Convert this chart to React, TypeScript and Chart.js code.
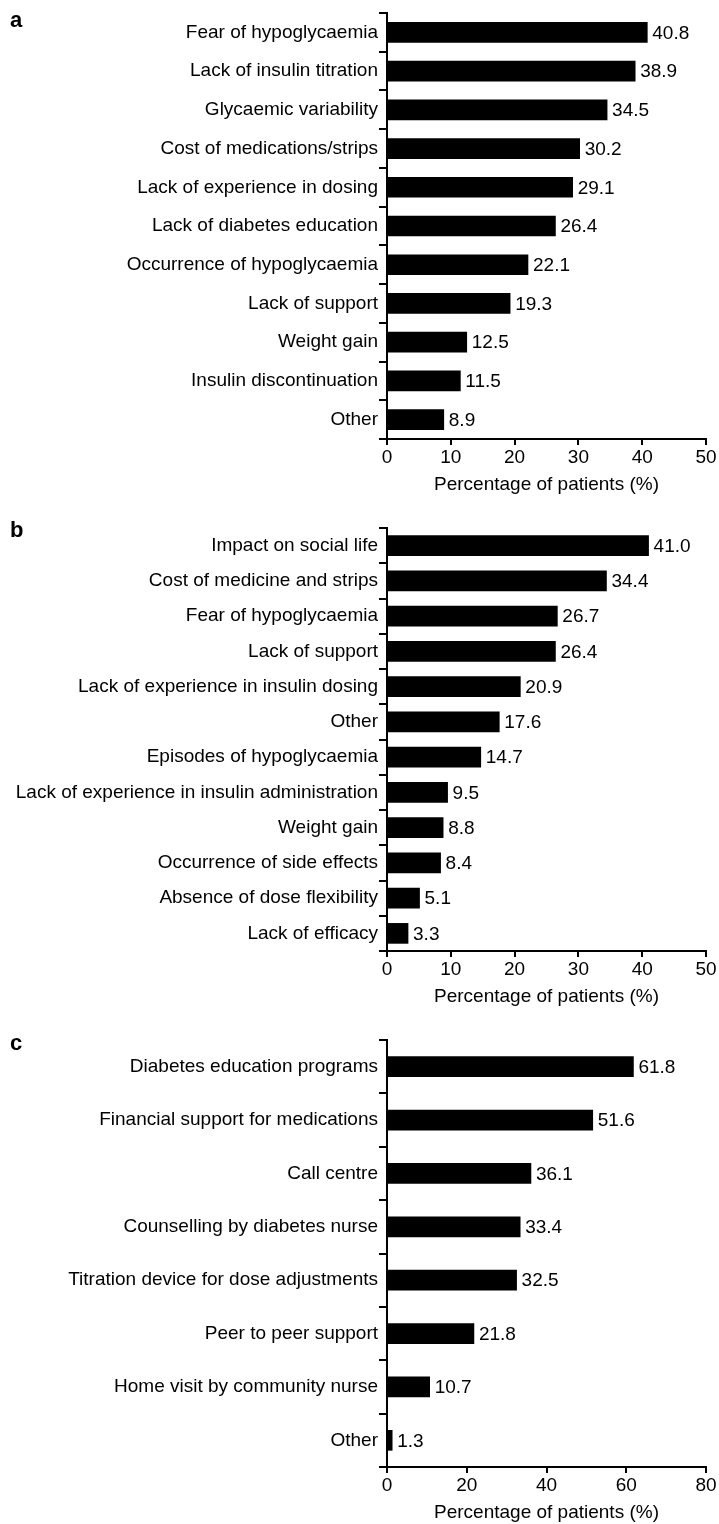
import React, { useEffect, useRef } from "react";
import { Chart, registerables } from "chart.js";

Chart.register(...registerables);

const FONT = "'Liberation Sans', Arial, Helvetica, sans-serif";

// Panel a
const categoriesA = [
  "Fear of hypoglycaemia",
  "Lack of insulin titration",
  "Glycaemic variability",
  "Cost of medications/strips",
  "Lack of experience in dosing",
  "Lack of diabetes education",
  "Occurrence of hypoglycaemia",
  "Lack of support",
  "Weight gain",
  "Insulin discontinuation",
  "Other",
];
const valuesA = [40.8, 38.9, 34.5, 30.2, 29.1, 26.4, 22.1, 19.3, 12.5, 11.5, 8.9];

// Panel b
const categoriesB = [
  "Impact on social life",
  "Cost of medicine and strips",
  "Fear of hypoglycaemia",
  "Lack of support",
  "Lack of experience in insulin dosing",
  "Other",
  "Episodes of hypoglycaemia",
  "Lack of experience in insulin administration",
  "Weight gain",
  "Occurrence of side effects",
  "Absence of dose flexibility",
  "Lack of efficacy",
];
const valuesB = [41.0, 34.4, 26.7, 26.4, 20.9, 17.6, 14.7, 9.5, 8.8, 8.4, 5.1, 3.3];

// Panel c
const categoriesC = [
  "Diabetes education programs",
  "Financial support for medications",
  "Call centre",
  "Counselling by diabetes nurse",
  "Titration device for dose adjustments",
  "Peer to peer support",
  "Home visit by community nurse",
  "Other",
];
const valuesC = [61.8, 51.6, 36.1, 33.4, 32.5, 21.8, 10.7, 1.3];

const axisMaxAB = 50;
const axisStepAB = 10;
const axisMaxC = 80;
const axisStepC = 20;
const axisTitle = "Percentage of patients (%)";

type PanelProps = {
  labels: string[];
  values: number[];
  max: number;
  step: number;
  top: number;
  height: number;
  letter: string;
  letterY: number;
};

function Panel({ labels, values, max, step, top, height, letter, letterY }: PanelProps) {
  const ref = useRef<HTMLCanvasElement | null>(null);
  useEffect(() => {
    if (!ref.current) return;
    const valuePlugin = {
      id: "valueLabels",
      afterDatasetsDraw(chart: any) {
        const ctx = chart.ctx;
        const meta = chart.getDatasetMeta(0);
        ctx.save();
        ctx.fillStyle = "#000";
        ctx.font = `19px ${FONT}`;
        ctx.textAlign = "left";
        ctx.textBaseline = "middle";
        meta.data.forEach((el: any, i: number) => {
          const v = chart.data.datasets[0].data[i] as number;
          ctx.fillText(v.toFixed(1), el.x + 5, el.y + 1);
        });
        ctx.font = `bold 22px ${FONT}`;
        ctx.textBaseline = "alphabetic";
        ctx.fillText(letter, 10, letterY);
        ctx.restore();
      },
    };
    const chart = new Chart(ref.current, {
      type: "bar",
      data: {
        labels,
        datasets: [
          {
            data: values,
            backgroundColor: "#000",
            borderWidth: 0,
            barThickness: 20,
          },
        ],
      },
      options: {
        indexAxis: "y",
        animation: false,
        responsive: false,
        devicePixelRatio: 1,
        layout: { padding: { top: 13, right: 13, left: 0, bottom: 0 } },
        plugins: {
          legend: { display: false },
          tooltip: { enabled: false },
        },
        scales: {
          x: {
            type: "linear",
            min: 0,
            max,
            afterFit: (s: any) => {
              s.height = 57;
            },
            ticks: {
              stepSize: step,
              color: "#000",
              font: { size: 19, family: FONT },
              padding: 1,
              maxRotation: 0,
            },
            grid: {
              display: true,
              drawOnChartArea: false,
              drawTicks: true,
              tickLength: 6,
              color: "#000",
              lineWidth: 2,
            },
            border: { display: true, color: "#000", width: 2 },
            title: {
              display: true,
              text: axisTitle,
              color: "#000",
              font: { size: 19, family: FONT },
              padding: { top: 0, bottom: 0 },
            },
          },
          y: {
            type: "category",
            offset: true,
            afterFit: (s: any) => {
              s.width = 387;
            },
            ticks: {
              color: "#000",
              font: { size: 19, family: FONT },
              padding: 1,
            },
            grid: {
              display: true,
              offset: true,
              drawOnChartArea: false,
              drawTicks: true,
              tickLength: 8,
              color: "#000",
              lineWidth: 2,
            },
            border: { display: true, color: "#000", width: 2 },
          },
        },
      },
      plugins: [valuePlugin],
    } as any);
    return () => chart.destroy();
  }, []);
  return (
    <canvas
      ref={ref}
      width={719}
      height={height}
      style={{ position: "absolute", left: 0, top, width: 719, height }}
    />
  );
}

export default function App() {
  return (
    <div
      style={{
        position: "absolute",
        left: 0,
        top: 0,
        width: 719,
        height: 1524,
        background: "#fff",
        overflow: "hidden",
      }}
    >
      <Panel labels={categoriesA} values={valuesA} max={axisMaxAB} step={axisStepAB} top={0} height={496} letter="a" letterY={27} />
      <Panel labels={categoriesB} values={valuesB} max={axisMaxAB} step={axisStepAB} top={515} height={493} letter="b" letterY={22} />
      <Panel labels={categoriesC} values={valuesC} max={axisMaxC} step={axisStepC} top={1027} height={497} letter="c" letterY={23} />
    </div>
  );
}
